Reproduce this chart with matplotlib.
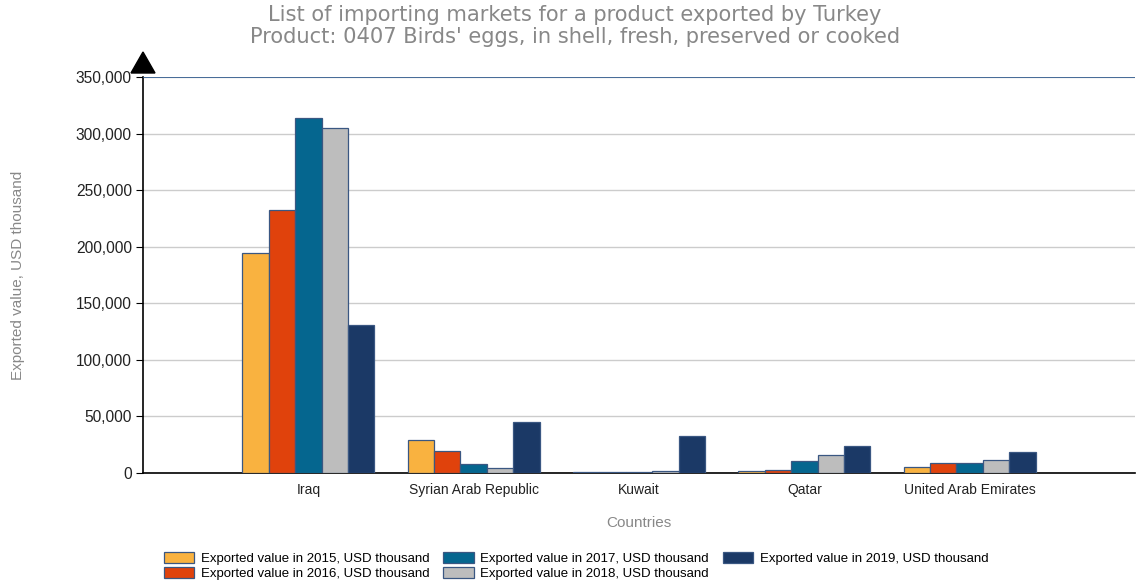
import matplotlib
matplotlib.use("Agg")
import matplotlib.pyplot as plt
from matplotlib.patches import Polygon
from matplotlib.ticker import FuncFormatter
import numpy as np

countries = ["Iraq", "Syrian Arab Republic", "Kuwait", "Qatar", "United Arab Emirates"]
years = ["2015", "2016", "2017", "2018", "2019"]
v2015 = [194400, 29200, 500, 1600, 5200]
v2016 = [232400, 19400, 500, 2600, 9000]
v2017 = [313700, 8000, 600, 11000, 9000]
v2018 = [304900, 4400, 1500, 15600, 11500]
v2019 = [130800, 45000, 32700, 24000, 18500]
series = [v2015, v2016, v2017, v2018, v2019]
colors = ["#f9b240", "#e0420c", "#05668f", "#bdbdbd", "#1b3966"]

fig = plt.figure(figsize=(11.36, 5.86), dpi=100)
ax = fig.add_axes([143/1136, (586-473)/586, (1135-143)/1136, (473-77)/586])

x = np.arange(1, len(countries) + 1)
w = 0.16
for i, (vals, c, yr) in enumerate(zip(series, colors, years)):
    ax.bar(x + (i - 2) * w, vals, width=w, color=c, edgecolor="#3a5782",
           linewidth=0.9, label=f"Exported value in {yr}, USD thousand", zorder=3)

ax.set_xlim(0, 6)
ax.set_ylim(0, 350000)
ax.set_yticks(np.arange(0, 350001, 50000))
ax.yaxis.set_major_formatter(FuncFormatter(lambda v, p: f"{int(v):,}"))
ax.set_xticks(x)
ax.set_xticklabels(countries)
ax.grid(axis="y", color="#cccccc", linewidth=1, zorder=0)
ax.axhline(350000, color="#2f5a8f", linewidth=1.2, zorder=4)
for s in ["top", "right"]:
    ax.spines[s].set_visible(False)
ax.spines["left"].set_color("black")
ax.spines["bottom"].set_color("black")
ax.spines["left"].set_linewidth(1.2)
ax.spines["bottom"].set_linewidth(1.2)
ax.tick_params(axis="y", length=5, labelsize=11.2, labelcolor="#222222", pad=3)
ax.tick_params(axis="x", length=0, labelsize=10, labelcolor="#222222", pad=7)
for lab in ax.get_xticklabels() + ax.get_yticklabels():
    lab.set_family(["Liberation Sans", "DejaVu Sans"])

ax.set_xlabel("Countries", color="#888888", fontsize=11, labelpad=14,
              family=["Liberation Sans", "DejaVu Sans"])
fig.text(18/1136, 1 - 275/586, "Exported value, USD thousand", rotation=90,
         ha="center", va="center", color="#888888", fontsize=11,
         family=["Liberation Sans", "DejaVu Sans"])

fig.text(575/1136, 1 - 15/586, "List of importing markets for a product exported by Turkey",
         ha="center", va="center", color="#888888", fontsize=15.1, family="DejaVu Sans")
fig.text(575/1136, 1 - 37/586, "Product: 0407 Birds' eggs, in shell, fresh, preserved or cooked",
         ha="center", va="center", color="#888888", fontsize=15.1, family="DejaVu Sans")

tri = Polygon([(143/1136, 1 - 52/586), (131/1136, 1 - 73/586), (155/1136, 1 - 73/586)],
              closed=True, transform=fig.transFigure, color="black", clip_on=False)
fig.patches.append(tri)

leg = fig.legend(loc="center", bbox_to_anchor=(0.507, 1 - 566/586), ncol=3, frameon=False,
                 handlelength=2.3, handleheight=0.9, columnspacing=1.05,
                 labelspacing=0.15, handletextpad=0.5,
                 prop={"family": ["Liberation Sans Narrow", "Liberation Sans"], "size": 9.5})

fig.savefig("out.png", dpi=100)
